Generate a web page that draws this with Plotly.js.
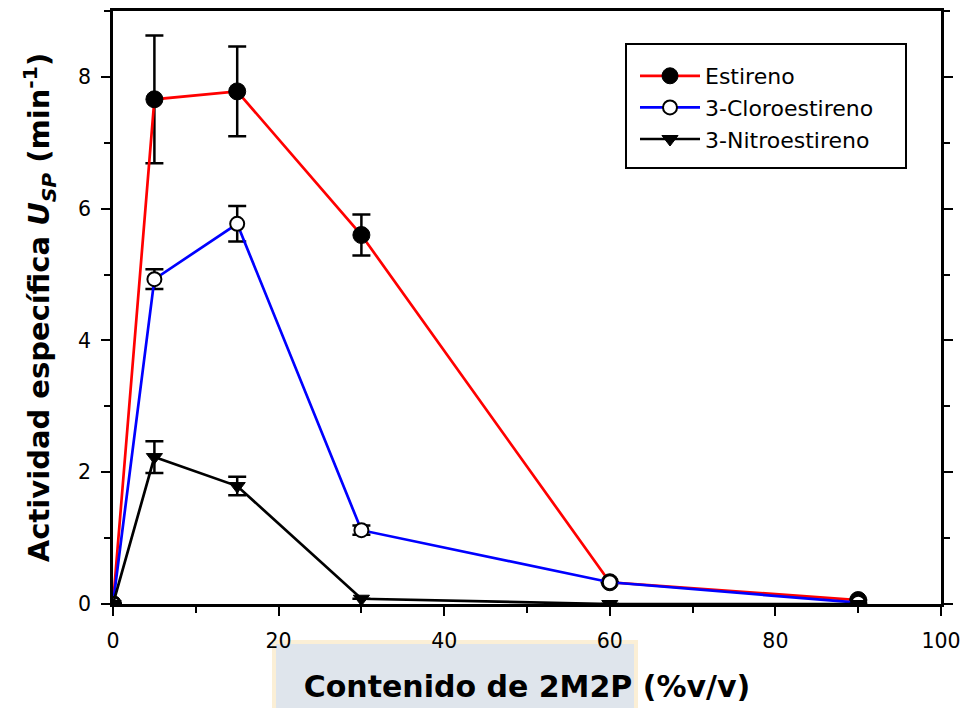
<!DOCTYPE html>
<html>
<head>
<meta charset="utf-8">
<script src="https://cdn.plot.ly/plotly-3.0.1.min.js"></script>
<style>html,body{margin:0;padding:0;background:#fff;}#chart{width:964px;height:708px;}</style>
</head>
<body>
<div id="chart"></div>
<script>
const contenido = [0, 5, 15, 30, 60, 90];
const estireno = [0, 7.66, 7.78, 5.60, 0.33, 0.06];
const estirenoErr = [0, 0.97, 0.68, 0.31, 0, 0];
const cloro = [0, 4.93, 5.77, 1.12, 0.33, 0.02];
const cloroErr = [0, 0.15, 0.27, 0.07, 0, 0];
const nitro = [0, 2.23, 1.79, 0.08, 0, 0];
const nitroErr = [0, 0.24, 0.14, 0, 0, 0];
const seriesNames = ["Estireno", "3-Cloroestireno", "3-Nitroestireno"];

const errStyle = (arr) => ({type: 'data', array: arr, visible: true, color: '#000', thickness: 2.5, width: 9});

const traces = [
  {x: contenido, y: estireno, name: seriesNames[0], mode: 'lines+markers',
   line: {color: '#ff0000', width: 2.7},
   marker: {symbol: 'circle', size: 17, color: '#000', line: {color: '#000', width: 1}},
   error_y: errStyle(estirenoErr)},
  {x: contenido, y: cloro, name: seriesNames[1], mode: 'lines+markers',
   line: {color: '#0000ff', width: 2.7},
   marker: {symbol: 'circle', size: 14, color: '#fff', line: {color: '#000', width: 2}},
   error_y: errStyle(cloroErr)},
  {x: contenido, y: nitro, name: seriesNames[2], mode: 'lines+markers',
   line: {color: '#000', width: 2.7},
   marker: {symbol: 'triangle-down', size: 14, color: '#000', line: {color: '#000', width: 1}},
   error_y: errStyle(nitroErr)}
];

const layout = {
  width: 964, height: 708,
  margin: {l: 113, r: 23, t: 11, b: 104},
  paper_bgcolor: '#fff', plot_bgcolor: '#fff',
  font: {family: 'DejaVu Sans', color: '#000', size: 20},
  showlegend: true,
  legend: {x: (635-113)/828, y: (604-55)/593, xanchor: 'left', yanchor: 'top',
    borderwidth: 0, bgcolor: 'rgba(0,0,0,0)',
    font: {family: 'DejaVu Sans', size: 22, color: '#000'},
    itemwidth: 60, tracegroupgap: 0},
  xaxis: {range: [0, 100], dtick: 20, tick0: 0, showgrid: false, zeroline: false,
    showline: true, linecolor: '#000', linewidth: 2.5, mirror: true,
    ticks: 'outside', ticklen: 9, tickwidth: 2, tickcolor: '#000', ticklabelstandoff: 8,
    minor: {dtick: 10, ticks: 'outside', ticklen: 6, tickwidth: 2, tickcolor: '#000'},
    tickfont: {family: 'DejaVu Sans', size: 20.5, color: '#000'},
    title: {text: '<b>Contenido de 2M2P (%v/v)</b>', font: {family: 'DejaVu Sans', size: 30, color: '#000'}, standoff: 24}},
  yaxis: {range: [0, 9], dtick: 2, tick0: 0, showgrid: false, zeroline: false,
    showline: true, linecolor: '#000', linewidth: 2.5, mirror: 'ticks',
    ticks: 'outside', ticklen: 9, tickwidth: 2, tickcolor: '#000', ticklabelstandoff: 6,
    minor: {dtick: 1, ticks: 'outside', ticklen: 6, tickwidth: 2, tickcolor: '#000'},
    tickfont: {family: 'DejaVu Sans', size: 20.5, color: '#000'},
    title: {text: '<b>Actividad específica <i>U</i><sub><i>SP</i></sub> (min<sup>-1</sup>)</b>', font: {family: 'DejaVu Sans', size: 29, color: '#000'}, standoff: 20}},
  shapes: [
    {type: 'rect', xref: 'paper', yref: 'paper', layer: 'below',
     x0: (274-113)/828, x1: (636-113)/828, y0: (604-642)/593, y1: (604-712)/593,
     fillcolor: '#dfe5ec', line: {color: '#fbefd6', width: 4}},
    {type: 'rect', xref: 'paper', yref: 'paper', layer: 'above',
     x0: (626-113)/828, x1: (906-113)/828, y0: (604-44)/593, y1: (604-168)/593,
     fillcolor: 'rgba(0,0,0,0)', line: {color: '#000', width: 2}}
  ]
};

Plotly.newPlot('chart', traces, layout, {displayModeBar: false, responsive: false});
</script>
</body>
</html>
